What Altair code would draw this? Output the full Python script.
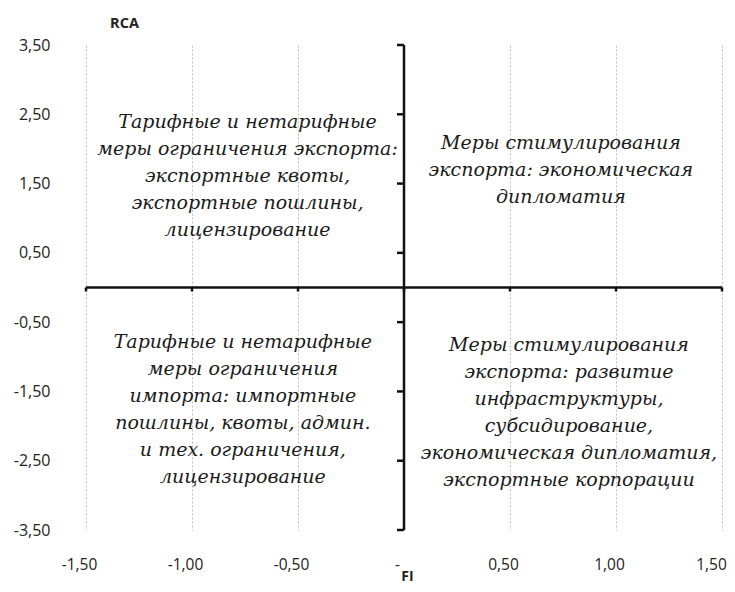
import altair as alt
import pandas as pd

# Axis ticks
x_ticks = [-1.5, -1.0, -0.5, 0.0, 0.5, 1.0, 1.5]
y_ticks = [-3.5, -2.5, -1.5, -0.5, 0.5, 1.5, 2.5, 3.5]

# Quadrant annotations (text and anchor of first line, in data units)
quad_text = [
    "Тарифные и нетарифные\nмеры ограничения экспорта:\nэкспортные квоты,\nэкспортные пошлины,\nлицензирование",
    "Меры стимулирования\nэкспорта: экономическая\nдипломатия",
    "Тарифные и нетарифные\nмеры ограничения\nимпорта: импортные\nпошлины, квоты, админ.\nи тех. ограничения,\nлицензирование",
    "Меры стимулирования\nэкспорта: развитие\nинфраструктуры,\nсубсидирование,\nэкономическая дипломатия,\nэкспортные корпорации",
]
quad_x = [-0.738, 0.74, -0.76, 0.778]
quad_y = [2.39, 2.085, -0.786, -0.83]

W, H = 636, 485

text_df = pd.DataFrame({"x": quad_x, "y": quad_y, "t": quad_text})
xt_df = pd.DataFrame({"x": x_ticks})
yt_df = pd.DataFrame({"y": y_ticks})

xscale = alt.Scale(domain=[-1.5, 1.5], nice=False, zero=False)
yscale = alt.Scale(domain=[-3.5, 3.5], nice=False, zero=False)

label_expr_x = ("datum.value == 0 ? '-' : (datum.value < 0 ? '-' : '') + "
                "replace(format(abs(datum.value), '.2f'), '.', ',')")
label_expr_y = ("(datum.value < 0 ? '-' : '') + "
                "replace(format(abs(datum.value), '.2f'), '.', ',')")

x_axis = alt.Axis(
    values=x_ticks, labelExpr=label_expr_x, title="FI", domain=False, ticks=False,
    grid=True, gridColor="#bdbdbd", gridDash=[2, 2], gridWidth=1,
    labelFlush=False, labelOverlap=False,
    labelPadding=34, labelBaseline="middle", labelFontSize=15.5, labelColor="#222222",
    labelFont="Open Sans",
    labelOffset={"condition": {"test": "datum.value == 1.5", "value": -11}, "value": -7},
    titleFont="Open Sans", titleFontSize=14, titleFontWeight="bold", titleColor="#222222",
    titleY=46, titleX=321, titleBaseline="middle", titleAlign="center",
)
y_axis = alt.Axis(
    values=y_ticks, labelExpr=label_expr_y, title="RCA", domain=False, ticks=False,
    grid=False, labelFlush=False, labelOverlap=False,
    labelPadding=36, labelFontSize=16, labelColor="#222222", labelFont="Open Sans",
    titleFont="Open Sans", titleFontSize=14.5, titleFontWeight="bold", titleColor="#222222",
    titleAngle=0, titleX=38, titleY=-22, titleAlign="center", titleBaseline="middle",
)

grid_base = alt.Chart(xt_df).mark_rule(opacity=0).encode(
    x=alt.X("x:Q", scale=xscale, axis=x_axis),
    y=alt.Y("y:Q", scale=yscale, axis=y_axis),
).transform_calculate(y="0")

hline = alt.Chart(pd.DataFrame({"x": [x_ticks[0]], "x2": [x_ticks[-1]], "y": [0]})).mark_rule(
    color="#111111", strokeWidth=2.5
).encode(x=alt.X("x:Q", scale=xscale), x2="x2:Q", y=alt.Y("y:Q", scale=yscale))

vline = alt.Chart(pd.DataFrame({"x": [0], "y": [y_ticks[0]], "y2": [y_ticks[-1]]})).mark_rule(
    color="#111111", strokeWidth=2.5
).encode(x=alt.X("x:Q", scale=xscale), y=alt.Y("y:Q", scale=yscale), y2="y2:Q")

vticks = alt.Chart(yt_df).transform_calculate(x="0").mark_rule(
    color="#111111", strokeWidth=2.5, x2Offset=-7
).encode(x=alt.X("x:Q", scale=xscale), x2="x:Q", y=alt.Y("y:Q", scale=yscale))

hticks = alt.Chart(xt_df).transform_calculate(y="0").mark_rule(
    color="#111111", strokeWidth=2.5, y2Offset=4
).encode(x=alt.X("x:Q", scale=xscale), y=alt.Y("y:Q", scale=yscale), y2="y:Q")

texts = alt.Chart(text_df).mark_text(
    font="DejaVu Serif", fontStyle="italic", fontSize=19, lineHeight=27,
    lineBreak="\n", align="center", baseline="middle", color="#1a1a1a"
).encode(x=alt.X("x:Q", scale=xscale), y=alt.Y("y:Q", scale=yscale), text="t:N")

chart = alt.layer(grid_base, hline, vline, vticks, hticks, texts).properties(
    width=W, height=H,
    autosize=alt.AutoSizeParams(type="none"),
    padding={"left": 78, "top": 37, "right": 5, "bottom": 54},
    background="white",
).configure_view(stroke=None)

chart.save("out.html", embed_options={"renderer": "svg", "actions": False})
